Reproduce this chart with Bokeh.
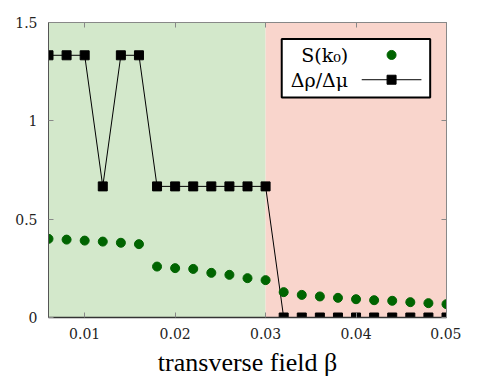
from bokeh.plotting import figure
from bokeh.models import (ColumnDataSource, BoxAnnotation, LinearAxis, FixedTicker,
                          Label, Range1d)
from bokeh.embed import file_html
from bokeh.resources import INLINE

# ---- data ----
beta = [0.006, 0.008, 0.010, 0.012, 0.014, 0.016, 0.018, 0.020, 0.022, 0.024,
        0.026, 0.028, 0.030, 0.032, 0.034, 0.036, 0.038, 0.040, 0.042, 0.044,
        0.046, 0.048, 0.050]
s_k0 = [0.400, 0.396, 0.391, 0.386, 0.380, 0.373, 0.259, 0.251, 0.247, 0.227,
        0.217, 0.200, 0.190, 0.129, 0.115, 0.107, 0.100, 0.093, 0.088, 0.085,
        0.078, 0.073, 0.068]
drho_dmu = [1.3333, 1.3333, 1.3333, 0.6667, 1.3333, 1.3333, 0.6667, 0.6667,
            0.6667, 0.6667, 0.6667, 0.6667, 0.6667, 0, 0, 0, 0, 0, 0, 0, 0, 0, 0]
x_ticks = [0.01, 0.02, 0.03, 0.04, 0.05]
x_tick_labels = ["0.01", "0.02", "0.03", "0.04", "0.05"]
y_ticks = [0, 0.5, 1, 1.5]
y_tick_labels = ["0", "0.5", "1", "1.5"]
x_lo, x_hi = 0.006, 0.05
y_lo, y_hi = 0.0, 1.5
phase_boundary = 0.03
series_names = ["S(k\u2080)", "\u0394\u03c1/\u0394\u03bc"]
x_label = "transverse field \u03b2"

FONT_AXIS_LABEL = "Liberation Serif, serif"
FONT_SMALL = "DejaVu Serif"
GREEN_BG = "#d3e8cb"
RED_BG = "#f9d5cc"
DOT = "#006400"

src = ColumnDataSource(dict(x=beta, s=s_k0, d=drho_dmu))

p = figure(width=461, height=380, output_backend="svg", toolbar_location=None,
           x_range=Range1d(x_lo, x_hi), y_range=Range1d(y_lo, y_hi),
           min_border_left=48, min_border_right=15, min_border_top=22,
           min_border_bottom=63, x_axis_type=None, y_axis_type=None)
p.grid.visible = False
p.outline_line_color = "#888888"
p.background_fill_color = "white"
p.border_fill_color = "white"

# phase regions
p.add_layout(BoxAnnotation(right=phase_boundary, fill_color=GREEN_BG, fill_alpha=1,
                           line_alpha=0, level="underlay"))
p.add_layout(BoxAnnotation(left=phase_boundary, fill_color=RED_BG, fill_alpha=1,
                           line_alpha=0, level="underlay"))

def style_axis(ax, ticks, labels, show_labels, line_color):
    ax.ticker = FixedTicker(ticks=ticks)
    ax.major_label_overrides = {t: l for t, l in zip(ticks, labels)}
    ax.major_tick_in = 5
    ax.major_tick_out = 0
    ax.minor_tick_line_color = None
    ax.major_tick_line_color = "#888888"
    ax.axis_line_color = line_color
    ax.major_label_text_font = FONT_SMALL
    ax.major_label_text_font_style = "normal"
    ax.major_label_text_font_size = "14px" if show_labels else "0px"
    ax.major_label_text_color = "#222222"
    if not show_labels:
        ax.major_label_text_alpha = 0
        ax.major_label_standoff = 0

xb = LinearAxis()
style_axis(xb, x_ticks, x_tick_labels, True, "#333333")
xb.axis_line_width = 1.5
xb.major_label_standoff = 10
xb.axis_label = x_label
xb.axis_label_text_font = FONT_AXIS_LABEL
xb.axis_label_text_font_size = "26px"
xb.axis_label_text_font_style = "normal"
xb.axis_label_text_color = "black"
xb.axis_label_standoff = 6
p.add_layout(xb, "below")

xt = LinearAxis()
style_axis(xt, x_ticks, x_tick_labels, False, "#888888")
p.add_layout(xt, "above")

yl = LinearAxis()
style_axis(yl, y_ticks, y_tick_labels, True, "#555555")
yl.major_label_standoff = 11
p.add_layout(yl, "left")

yr = LinearAxis()
style_axis(yr, y_ticks, y_tick_labels, False, "#888888")
p.add_layout(yr, "right")

# data
p.line("x", "d", source=src, line_color="black", line_width=1)
p.scatter("x", "d", source=src, marker="square", size=9, fill_color="black",
          line_color="black")
p.scatter("x", "s", source=src, marker="circle", size=9, fill_color=DOT,
          line_color=DOT)

# ---- hand-built legend (gnuplot style: label left, key right) ----
def fx(f):
    return x_lo + f * (x_hi - x_lo)

def fy(f):
    return y_lo + f * (y_hi - y_lo)

LEG_BOX = (0.586, 0.959, 0.944, 0.746)  # left, right, top, bottom (frame fraction)
LEG_TEXT_X = 0.753
LEG_KEY_X = 0.862
LEG_LINE = (0.787, 0.937)
LEG_ROWS = (0.890, 0.806)

p.add_layout(BoxAnnotation(left=fx(LEG_BOX[0]), right=fx(LEG_BOX[1]),
                           top=fy(LEG_BOX[2]), bottom=fy(LEG_BOX[3]),
                           fill_color="white", fill_alpha=1, line_color="black",
                           line_width=2, line_alpha=1, level="annotation"))
for name, row in zip(series_names, LEG_ROWS):
    p.add_layout(Label(x=fx(LEG_TEXT_X), y=fy(row), text=name, text_font=FONT_SMALL,
                       text_font_style="normal",
                       text_font_size="19px", text_align="right",
                       text_baseline="middle", text_color="black", level="overlay"))

key_src = ColumnDataSource(dict(
    cx=[fx(LEG_KEY_X)], cy=[fy(LEG_ROWS[0])],
    sx=[fx(LEG_KEY_X)], sy=[fy(LEG_ROWS[1])],
))
line_src = ColumnDataSource(dict(
    lx=[fx(LEG_LINE[0]), fx(LEG_LINE[1])], ly=[fy(LEG_ROWS[1])] * 2,
))
p.scatter(x="cx", y="cy", source=key_src, marker="circle", size=9,
          fill_color=DOT, line_color=DOT, level="overlay")
p.line(x="lx", y="ly", source=line_src, line_color="black", line_width=1,
       level="overlay")
p.scatter(x="sx", y="sy", source=key_src, marker="square", size=9,
          fill_color="black", line_color="black", level="overlay")

open("out.html", "w").write(file_html(p, INLINE))
